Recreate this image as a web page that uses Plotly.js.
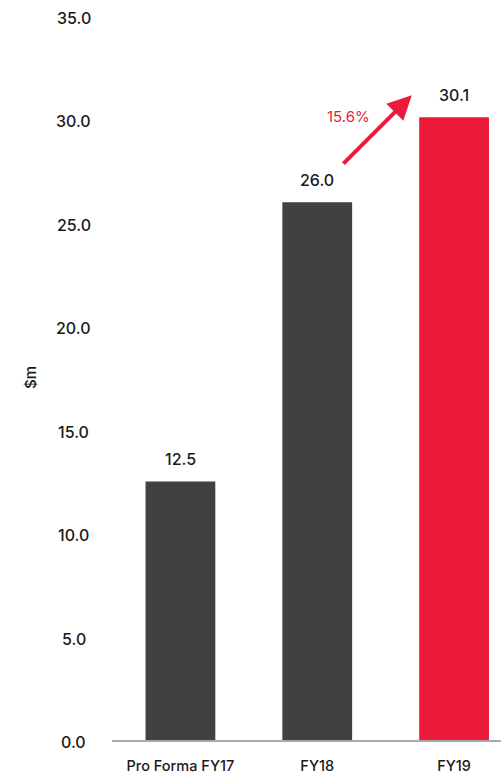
<!DOCTYPE html>
<html>
<head>
<meta charset="utf-8">
<script src="https://cdn.plot.ly/plotly-3.0.1.min.js"></script>
<style>html,body{margin:0;padding:0;background:#fff;}#chart{width:501px;height:773px;}</style>
</head>
<body>
<div id="chart"></div>
<script>
const categories = ["Pro Forma FY17", "FY18", "FY19"];
const values = [12.5, 26.0, 30.1];
const barColors = ["#414042", "#414042", "#ED1B3A"];
const growthLabel = "15.6%";
const yTicks = [0, 5, 10, 15, 20, 25, 30, 35];
const yTitle = "$m";

const font = "Inter, 'Open Sans', sans-serif";
const ink = "#1a1a1a";
const red = "#ED1B3A";

const trace = {
  type: "bar",
  x: categories,
  y: values,
  width: 0.51,
  marker: {color: barColors},
  hoverinfo: "none"
};

const annotations = [];

// value labels above bars
categories.forEach((c, i) => annotations.push({
  x: c, y: values[i], xref: "x", yref: "y",
  text: values[i].toFixed(1),
  showarrow: false, yanchor: "middle", yshift: 22,
  font: {family: font, size: 16, color: ink, weight: 500}
}));

// centered y tick labels
yTicks.forEach(t => annotations.push({
  x: 0, xref: "paper", y: t, yref: "y",
  text: t.toFixed(1), showarrow: false,
  xanchor: "center", yanchor: "middle", xshift: -38.5, yshift: -2,
  font: {family: font, size: 16, color: ink, weight: 500}
}));

// y axis title
annotations.push({
  x: 0, xref: "paper", y: 0.5, yref: "paper",
  text: yTitle, showarrow: false, textangle: -90,
  xanchor: "center", yanchor: "middle", xshift: -82,
  font: {family: font, size: 15, color: ink, weight: 500}
});

// growth arrow
annotations.push({
  x: 1.691, y: 31.17, ax: 1.18, ay: 27.79,
  xref: "x", yref: "y", axref: "x", ayref: "y",
  showarrow: true, arrowhead: 2, arrowsize: 1.2, arrowwidth: 4,
  arrowcolor: red, text: ""
});
annotations.push({
  x: 1.23, y: 30.14, xref: "x", yref: "y",
  text: growthLabel, showarrow: false,
  font: {family: font, size: 15, color: red}
});

const layout = {
  width: 501, height: 773,
  margin: {l: 112, r: 0, t: 16, b: 33},
  paper_bgcolor: "#fff", plot_bgcolor: "#fff",
  showlegend: false,
  xaxis: {
    type: "category",
    range: [-0.5, 2.343],
    showgrid: false, zeroline: false,
    showline: true, linecolor: "#A7A9AC", linewidth: 2,
    ticks: "", ticklabelstandoff: 12,
    tickfont: {family: font, size: 14.5, color: ink, weight: 500},
    fixedrange: true
  },
  yaxis: {
    range: [0, 35],
    showticklabels: false,
    showgrid: false, zeroline: false, showline: false,
    ticks: "",
    fixedrange: true
  },
  annotations: annotations
};

Plotly.newPlot("chart", [trace], layout, {displayModeBar: false, staticPlot: true});
</script>
</body>
</html>
